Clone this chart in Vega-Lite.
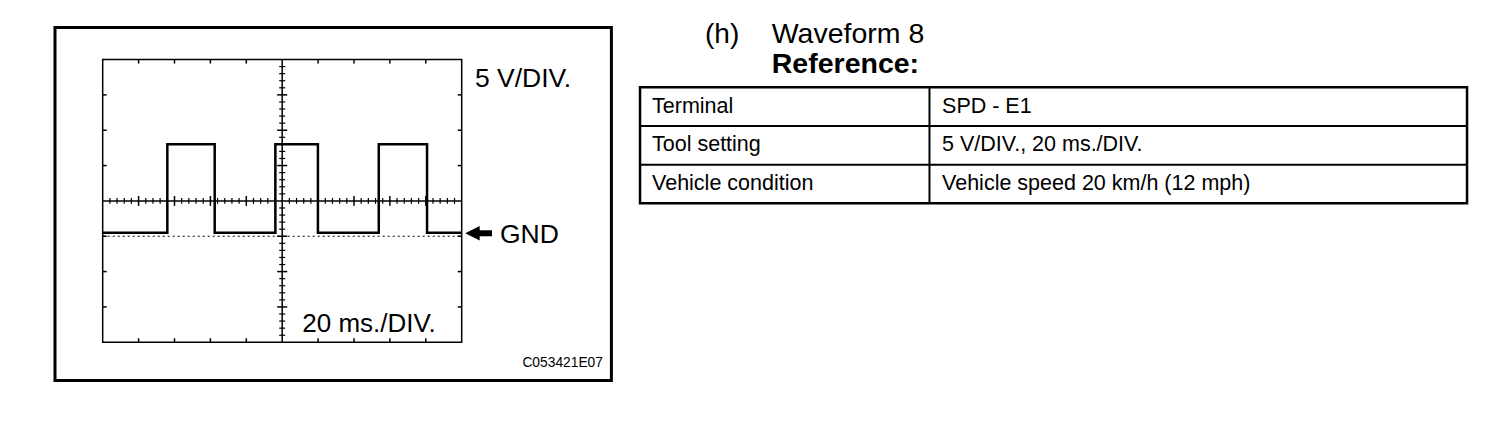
{
  "$schema": "https://vega.github.io/schema/vega-lite/v6.json",
  "width": 1504,
  "height": 424,
  "padding": 0,
  "autosize": {"type": "none"},
  "background": "white",
  "config": {"view": {"stroke": null}, "font": "Liberation Sans", "text": {"color": "black"}},
  "data": {"values": [{}]},
  "datasets": {
    "wave": [
      {"t": 0, "v": 0.5}, {"t": 36, "v": 13}, {"t": 62.4, "v": 0.5}, {"t": 96.2, "v": 13},
      {"t": 119.9, "v": 0.5}, {"t": 153.8, "v": 13}, {"t": 180.7, "v": 0.5}, {"t": 200, "v": 0.5}
    ],
    "xminor": [
      {"t": 4}, {"t": 8}, {"t": 12}, {"t": 16}, {"t": 24}, {"t": 28}, {"t": 32}, {"t": 36},
      {"t": 44}, {"t": 48}, {"t": 52}, {"t": 56}, {"t": 64}, {"t": 68}, {"t": 72}, {"t": 76},
      {"t": 84}, {"t": 88}, {"t": 92}, {"t": 96}, {"t": 104}, {"t": 108}, {"t": 112}, {"t": 116},
      {"t": 124}, {"t": 128}, {"t": 132}, {"t": 136}, {"t": 144}, {"t": 148}, {"t": 152}, {"t": 156},
      {"t": 164}, {"t": 168}, {"t": 172}, {"t": 176}, {"t": 184}, {"t": 188}, {"t": 192}, {"t": 196}
    ],
    "xmajor": [
      {"t": 20}, {"t": 40}, {"t": 60}, {"t": 80}, {"t": 120}, {"t": 140}, {"t": 160}, {"t": 180}
    ],
    "yminor": [
      {"v": -14}, {"v": -13}, {"v": -12}, {"v": -11}, {"v": -9}, {"v": -8}, {"v": -7}, {"v": -6},
      {"v": -4}, {"v": -3}, {"v": -2}, {"v": -1}, {"v": 1}, {"v": 2}, {"v": 3}, {"v": 4},
      {"v": 6}, {"v": 7}, {"v": 8}, {"v": 9}, {"v": 11}, {"v": 12}, {"v": 13}, {"v": 14},
      {"v": 16}, {"v": 17}, {"v": 18}, {"v": 19}, {"v": 21}, {"v": 22}, {"v": 23}, {"v": 24}
    ],
    "ymajor": [
      {"v": -10}, {"v": -5}, {"v": 0}, {"v": 10}, {"v": 15}, {"v": 20}
    ],
    "table": [
      {"row": 1, "label": "Terminal", "value": "SPD - E1"},
      {"row": 2, "label": "Tool setting", "value": "5 V/DIV., 20 ms./DIV."},
      {"row": 3, "label": "Vehicle condition", "value": "Vehicle speed 20 km/h (12 mph)"}
    ]
  },
  "layer": [
    {
      "layer": [
        {
          "mark": {"type": "rect", "fill": "transparent", "stroke": "black", "strokeWidth": 3},
          "encoding": {
            "x": {"datum": -26.57, "type": "quantitative", "scale": {"domain": [-57.21, 780.67], "nice": false, "zero": false}, "axis": null},
            "x2": {"datum": 283.4},
            "y": {"datum": 29.53, "type": "quantitative", "scale": {"domain": [-26.56, 33.42], "nice": false, "zero": false}, "axis": null},
            "y2": {"datum": -20.4}
          }
        },
        {
          "mark": {"type": "rect", "fill": "transparent", "stroke": "black", "strokeWidth": 1.5},
          "encoding": {
            "x": {"datum": 0, "type": "quantitative", "scale": {"domain": [-57.21, 780.67], "nice": false, "zero": false}, "axis": null},
            "x2": {"datum": 200},
            "y": {"datum": -15, "type": "quantitative", "scale": {"domain": [-26.56, 33.42], "nice": false, "zero": false}, "axis": null},
            "y2": {"datum": 25}
          }
        },
        {
          "mark": {"type": "rule", "color": "black", "strokeWidth": 1.5},
          "encoding": {
            "x": {"datum": 0, "type": "quantitative", "scale": {"domain": [-57.21, 780.67], "nice": false, "zero": false}, "axis": null},
            "x2": {"datum": 200},
            "y": {"datum": 5, "type": "quantitative", "scale": {"domain": [-26.56, 33.42], "nice": false, "zero": false}, "axis": null}
          }
        },
        {
          "mark": {"type": "rule", "color": "black", "strokeWidth": 1.5},
          "encoding": {
            "x": {"datum": 100, "type": "quantitative", "scale": {"domain": [-57.21, 780.67], "nice": false, "zero": false}, "axis": null},
            "y": {"datum": -15, "type": "quantitative", "scale": {"domain": [-26.56, 33.42], "nice": false, "zero": false}, "axis": null},
            "y2": {"datum": 25}
          }
        },
        {
          "mark": {"type": "rule", "color": "black", "strokeWidth": 1, "strokeDash": [2, 3]},
          "encoding": {
            "x": {"datum": 0, "type": "quantitative", "scale": {"domain": [-57.21, 780.67], "nice": false, "zero": false}, "axis": null},
            "x2": {"datum": 200},
            "y": {"datum": 0, "type": "quantitative", "scale": {"domain": [-26.56, 33.42], "nice": false, "zero": false}, "axis": null}
          }
        },
        {
          "data": {"name": "xminor"},
          "mark": {"type": "rule", "color": "black", "strokeWidth": 1.2},
          "encoding": {
            "x": {"field": "t", "type": "quantitative", "scale": {"domain": [-57.21, 780.67], "nice": false, "zero": false}, "axis": null},
            "y": {"datum": 4.58, "type": "quantitative", "scale": {"domain": [-26.56, 33.42], "nice": false, "zero": false}, "axis": null},
            "y2": {"datum": 5.42}
          }
        },
        {
          "data": {"name": "xmajor"},
          "mark": {"type": "rule", "color": "black", "strokeWidth": 1.5},
          "encoding": {
            "x": {"field": "t", "type": "quantitative", "scale": {"domain": [-57.21, 780.67], "nice": false, "zero": false}, "axis": null},
            "y": {"datum": 4.3, "type": "quantitative", "scale": {"domain": [-26.56, 33.42], "nice": false, "zero": false}, "axis": null},
            "y2": {"datum": 5.7}
          }
        },
        {
          "data": {"name": "xmajor"},
          "mark": {"type": "rule", "color": "black", "strokeWidth": 1.5},
          "encoding": {
            "x": {"field": "t", "type": "quantitative", "scale": {"domain": [-57.21, 780.67], "nice": false, "zero": false}, "axis": null},
            "y": {"datum": -15, "type": "quantitative", "scale": {"domain": [-26.56, 33.42], "nice": false, "zero": false}, "axis": null},
            "y2": {"datum": -14.43}
          }
        },
        {
          "data": {"name": "xmajor"},
          "mark": {"type": "rule", "color": "black", "strokeWidth": 1.5},
          "encoding": {
            "x": {"field": "t", "type": "quantitative", "scale": {"domain": [-57.21, 780.67], "nice": false, "zero": false}, "axis": null},
            "y": {"datum": 25, "type": "quantitative", "scale": {"domain": [-26.56, 33.42], "nice": false, "zero": false}, "axis": null},
            "y2": {"datum": 24.43}
          }
        },
        {
          "data": {"name": "yminor"},
          "mark": {"type": "rule", "color": "black", "strokeWidth": 1.2},
          "encoding": {
            "y": {"field": "v", "type": "quantitative", "scale": {"domain": [-26.56, 33.42], "nice": false, "zero": false}, "axis": null},
            "x": {"datum": 98.33, "type": "quantitative", "scale": {"domain": [-57.21, 780.67], "nice": false, "zero": false}, "axis": null},
            "x2": {"datum": 101.67}
          }
        },
        {
          "data": {"name": "ymajor"},
          "mark": {"type": "rule", "color": "black", "strokeWidth": 1.5},
          "encoding": {
            "y": {"field": "v", "type": "quantitative", "scale": {"domain": [-26.56, 33.42], "nice": false, "zero": false}, "axis": null},
            "x": {"datum": 97.2, "type": "quantitative", "scale": {"domain": [-57.21, 780.67], "nice": false, "zero": false}, "axis": null},
            "x2": {"datum": 102.8}
          }
        },
        {
          "data": {"name": "ymajor"},
          "mark": {"type": "rule", "color": "black", "strokeWidth": 1.5},
          "encoding": {
            "y": {"field": "v", "type": "quantitative", "scale": {"domain": [-26.56, 33.42], "nice": false, "zero": false}, "axis": null},
            "x": {"datum": 0, "type": "quantitative", "scale": {"domain": [-57.21, 780.67], "nice": false, "zero": false}, "axis": null},
            "x2": {"datum": 2.23}
          }
        },
        {
          "data": {"name": "ymajor"},
          "mark": {"type": "rule", "color": "black", "strokeWidth": 1.5},
          "encoding": {
            "y": {"field": "v", "type": "quantitative", "scale": {"domain": [-26.56, 33.42], "nice": false, "zero": false}, "axis": null},
            "x": {"datum": 197.77, "type": "quantitative", "scale": {"domain": [-57.21, 780.67], "nice": false, "zero": false}, "axis": null},
            "x2": {"datum": 200}
          }
        },
        {
          "data": {"name": "wave"},
          "mark": {"type": "line", "interpolate": "step-after", "color": "black", "strokeWidth": 2.5},
          "encoding": {
            "x": {"field": "t", "type": "quantitative", "scale": {"domain": [-57.21, 780.67], "nice": false, "zero": false}, "axis": null},
            "y": {"field": "v", "type": "quantitative", "scale": {"domain": [-26.56, 33.42], "nice": false, "zero": false}, "axis": null}
          }
        },
        {
          "mark": {"type": "rule", "color": "black", "strokeWidth": 6},
          "encoding": {
            "x": {"datum": 208.0, "type": "quantitative", "scale": {"domain": [-57.21, 780.67], "nice": false, "zero": false}, "axis": null},
            "x2": {"datum": 216.9},
            "y": {"datum": 0.42, "type": "quantitative", "scale": {"domain": [-26.56, 33.42], "nice": false, "zero": false}, "axis": null}
          }
        },
        {
          "mark": {"type": "point", "shape": "M-1,0L1,-1L1,1Z", "filled": true, "color": "black", "opacity": 1, "size": 210, "strokeWidth": 0},
          "encoding": {
            "x": {"datum": 206.0, "type": "quantitative", "scale": {"domain": [-57.21, 780.67], "nice": false, "zero": false}, "axis": null},
            "y": {"datum": 0.42, "type": "quantitative", "scale": {"domain": [-26.56, 33.42], "nice": false, "zero": false}, "axis": null}
          }
        },
        {
          "mark": {"type": "text", "text": "5 V/DIV.", "align": "left", "baseline": "alphabetic", "fontSize": 26.5, "font": "Liberation Sans"},
          "encoding": {
            "x": {"datum": 207.4, "type": "quantitative", "scale": {"domain": [-57.21, 780.67], "nice": false, "zero": false}, "axis": null},
            "y": {"datum": 21.15, "type": "quantitative", "scale": {"domain": [-26.56, 33.42], "nice": false, "zero": false}, "axis": null}
          }
        },
        {
          "mark": {"type": "text", "text": "20 ms./DIV.", "align": "left", "baseline": "alphabetic", "fontSize": 26, "font": "Liberation Sans"},
          "encoding": {
            "x": {"datum": 111.2, "type": "quantitative", "scale": {"domain": [-57.21, 780.67], "nice": false, "zero": false}, "axis": null},
            "y": {"datum": -13.5, "type": "quantitative", "scale": {"domain": [-26.56, 33.42], "nice": false, "zero": false}, "axis": null}
          }
        },
        {
          "mark": {"type": "text", "text": "GND", "align": "left", "baseline": "alphabetic", "fontSize": 26.5, "font": "Liberation Sans"},
          "encoding": {
            "x": {"datum": 221.3, "type": "quantitative", "scale": {"domain": [-57.21, 780.67], "nice": false, "zero": false}, "axis": null},
            "y": {"datum": -0.91, "type": "quantitative", "scale": {"domain": [-26.56, 33.42], "nice": false, "zero": false}, "axis": null}
          }
        },
        {
          "mark": {"type": "text", "text": "C053421E07", "align": "right", "baseline": "alphabetic", "fontSize": 13.8, "font": "Liberation Sans"},
          "encoding": {
            "x": {"datum": 278.7, "type": "quantitative", "scale": {"domain": [-57.21, 780.67], "nice": false, "zero": false}, "axis": null},
            "y": {"datum": -18.54, "type": "quantitative", "scale": {"domain": [-26.56, 33.42], "nice": false, "zero": false}, "axis": null}
          }
        }
      ]
    },
    {
      "layer": [
        {
          "mark": {"type": "rect", "fill": "transparent", "stroke": "black", "strokeWidth": 2.5},
          "encoding": {
            "x": {"datum": 0, "type": "quantitative", "scale": {"domain": [-77.39, 104.47], "nice": false, "zero": false}, "axis": null},
            "x2": {"datum": 100},
            "y": {"datum": 0.5, "type": "quantitative", "scale": {"domain": [-1.758, 9.207], "nice": false, "zero": false, "reverse": true}, "axis": null},
            "y2": {"datum": 3.5}
          }
        },
        {
          "mark": {"type": "rule", "color": "black", "strokeWidth": 2},
          "encoding": {
            "x": {"datum": 0, "type": "quantitative", "scale": {"domain": [-77.39, 104.47], "nice": false, "zero": false}, "axis": null},
            "x2": {"datum": 100},
            "y": {"datum": 1.5, "type": "quantitative", "scale": {"domain": [-1.758, 9.207], "nice": false, "zero": false, "reverse": true}, "axis": null}
          }
        },
        {
          "mark": {"type": "rule", "color": "black", "strokeWidth": 2},
          "encoding": {
            "x": {"datum": 0, "type": "quantitative", "scale": {"domain": [-77.39, 104.47], "nice": false, "zero": false}, "axis": null},
            "x2": {"datum": 100},
            "y": {"datum": 2.5, "type": "quantitative", "scale": {"domain": [-1.758, 9.207], "nice": false, "zero": false, "reverse": true}, "axis": null}
          }
        },
        {
          "mark": {"type": "rule", "color": "black", "strokeWidth": 2},
          "encoding": {
            "x": {"datum": 35.0, "type": "quantitative", "scale": {"domain": [-77.39, 104.47], "nice": false, "zero": false}, "axis": null},
            "y": {"datum": 0.5, "type": "quantitative", "scale": {"domain": [-1.758, 9.207], "nice": false, "zero": false, "reverse": true}, "axis": null},
            "y2": {"datum": 3.5}
          }
        },
        {
          "data": {"name": "table"},
          "mark": {"type": "text", "align": "left", "baseline": "middle", "fontSize": 21.5, "font": "Liberation Sans"},
          "encoding": {
            "x": {"datum": 1.45, "type": "quantitative", "scale": {"domain": [-77.39, 104.47], "nice": false, "zero": false}, "axis": null},
            "y": {"field": "row", "type": "quantitative", "scale": {"domain": [-1.758, 9.207], "nice": false, "zero": false, "reverse": true}, "axis": null},
            "text": {"field": "label"}
          }
        },
        {
          "data": {"name": "table"},
          "mark": {"type": "text", "align": "left", "baseline": "middle", "fontSize": 21.5, "font": "Liberation Sans"},
          "encoding": {
            "x": {"datum": 36.52, "type": "quantitative", "scale": {"domain": [-77.39, 104.47], "nice": false, "zero": false}, "axis": null},
            "y": {"field": "row", "type": "quantitative", "scale": {"domain": [-1.758, 9.207], "nice": false, "zero": false, "reverse": true}, "axis": null},
            "text": {"field": "value"}
          }
        },
        {
          "mark": {"type": "text", "text": "(h)", "align": "left", "baseline": "alphabetic", "fontSize": 28, "font": "Liberation Sans"},
          "encoding": {
            "x": {"datum": 7.86, "type": "quantitative", "scale": {"domain": [-77.39, 104.47], "nice": false, "zero": false}, "axis": null},
            "y": {"datum": -0.651, "type": "quantitative", "scale": {"domain": [-1.758, 9.207], "nice": false, "zero": false, "reverse": true}, "axis": null}
          }
        },
        {
          "mark": {"type": "text", "text": "Waveform 8", "align": "left", "baseline": "alphabetic", "fontSize": 28.5, "font": "Liberation Sans"},
          "encoding": {
            "x": {"datum": 15.93, "type": "quantitative", "scale": {"domain": [-77.39, 104.47], "nice": false, "zero": false}, "axis": null},
            "y": {"datum": -0.651, "type": "quantitative", "scale": {"domain": [-1.758, 9.207], "nice": false, "zero": false, "reverse": true}, "axis": null}
          }
        },
        {
          "mark": {"type": "text", "text": "Reference:", "align": "left", "baseline": "alphabetic", "fontSize": 28.5, "fontWeight": "bold", "font": "Liberation Sans"},
          "encoding": {
            "x": {"datum": 15.93, "type": "quantitative", "scale": {"domain": [-77.39, 104.47], "nice": false, "zero": false}, "axis": null},
            "y": {"datum": 0.138, "type": "quantitative", "scale": {"domain": [-1.758, 9.207], "nice": false, "zero": false, "reverse": true}, "axis": null}
          }
        }
      ]
    }
  ],
  "resolve": {"scale": {"x": "independent", "y": "independent"}}
}
